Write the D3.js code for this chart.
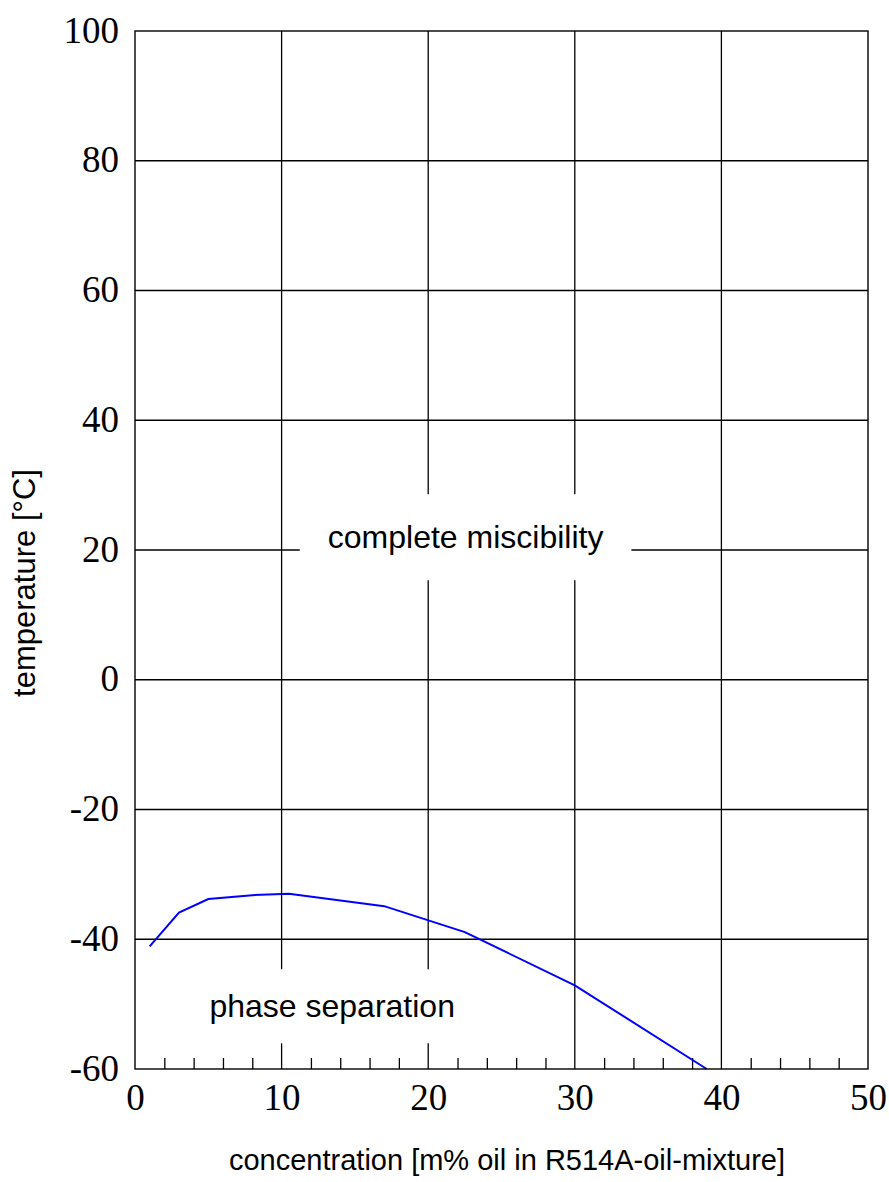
<!DOCTYPE html>
<html><head><meta charset="utf-8">
<script src="https://cdn.jsdelivr.net/npm/d3@7"></script>
<style>body{margin:0;background:#fff}</style>
</head><body>
<svg id="c" width="889" height="1182"></svg>
<script>
// data
const concentration = [1, 3, 5, 8, 10.5, 17, 22.5, 30, 39];
const temperature   = [-41.1, -35.9, -33.8, -33.2, -33.0, -34.9, -38.9, -47.1, -60];
const xTicks = [0, 10, 20, 30, 40, 50];
const xMinorTicks = [2,4,6,8,12,14,16,18,22,24,26,28,32,34,36,38,42,44,46,48];
const yTicks = [-60, -40, -20, 0, 20, 40, 60, 80, 100];
const regionLabels = ["complete miscibility", "phase separation"];
const regionLabelX = [22.55, 13.45];
const regionLabelY = [22.0, -50.3];
const xTitle = "concentration [m% oil in R514A-oil-mixture]";
const yTitle = "temperature [°C]";

const W = 889, H = 1182;
const m = {left:135, right:21, top:31, bottom:113};
const svg = d3.select("#c");
const x = d3.scaleLinear().domain([0,50]).range([m.left, W - m.right]);
const y = d3.scaleLinear().domain([-60,100]).range([H - m.bottom, m.top]);

const serif = "'Liberation Serif','Times New Roman',serif";
const sans = "'Liberation Sans',Arial,sans-serif";
const fmt = d => String(d);

// gridlines
svg.append("g").selectAll("line").data(yTicks.slice(1,-1)).join("line")
  .attr("x1", x(0)).attr("x2", x(50)).attr("y1", d=>y(d)).attr("y2", d=>y(d))
  .attr("stroke","#000").attr("stroke-width",1.3);
svg.append("g").selectAll("line").data(xTicks.slice(1,-1)).join("line")
  .attr("y1", y(-60)).attr("y2", y(100)).attr("x1", d=>x(d)).attr("x2", d=>x(d))
  .attr("stroke","#000").attr("stroke-width",1.3);

// minor ticks
const minor = svg.append("g").attr("transform", `translate(0,${y(-60)})`)
  .call(d3.axisBottom(x).tickValues(xMinorTicks).tickSize(-11).tickFormat(""));
minor.select(".domain").remove();
minor.selectAll("line").attr("stroke","#000").attr("stroke-width",1.3);

// region labels with white boxes
const lab = svg.append("g");
regionLabels.forEach((t,i)=>{
  const g = lab.append("g");
  const txt = g.append("text").attr("x", x(regionLabelX[i])).attr("y", y(regionLabelY[i]))
    .attr("text-anchor","middle").attr("dy","0.35em")
    .attr("font-family", sans).attr("font-size", 32).attr("fill","#000").text(t);
  const b = txt.node().getBBox();
  const px = 28, py = i===0 ? 25 : 19;
  g.insert("rect","text").attr("x", b.x-px).attr("y", b.y-py)
    .attr("width", b.width+2*px).attr("height", b.height+2*py).attr("fill","#fff");
});

// curve
svg.append("path")
  .datum(concentration.map((c,i)=>[c, temperature[i]]))
  .attr("fill","none").attr("stroke","#0000ff").attr("stroke-width",2)
  .attr("d", d3.line().x(d=>x(d[0])).y(d=>y(d[1])));

// frame
svg.append("rect").attr("x", x(0)).attr("y", y(100))
  .attr("width", x(50)-x(0)).attr("height", y(-60)-y(100))
  .attr("fill","none").attr("stroke","#000").attr("stroke-width",1.4);

// x axis labels
const xa = svg.append("g").attr("transform", `translate(0,${y(-60)})`)
  .call(d3.axisBottom(x).tickValues(xTicks).tickSize(0).tickPadding(15).tickFormat(fmt));
xa.select(".domain").remove();
xa.selectAll("text").attr("font-family", serif).attr("font-size", 37).attr("fill","#000");

// y axis labels
const ya = svg.append("g").attr("transform", `translate(${x(0)},0)`)
  .call(d3.axisLeft(y).tickValues(yTicks).tickSize(0).tickPadding(16).tickFormat(fmt));
ya.select(".domain").remove();
ya.selectAll("text").attr("font-family", serif).attr("font-size", 37).attr("fill","#000").attr("dy","0.3em");

// titles
svg.append("text").attr("x", 507).attr("y", 1170).attr("text-anchor","middle")
  .attr("font-family", sans).attr("font-size", 29).attr("fill","#000").text(xTitle);
svg.append("text").attr("transform","translate(35,583) rotate(-90)").attr("text-anchor","middle")
  .attr("font-family", sans).attr("font-size", 31).attr("fill","#000").text(yTitle);
</script>
</body></html>
